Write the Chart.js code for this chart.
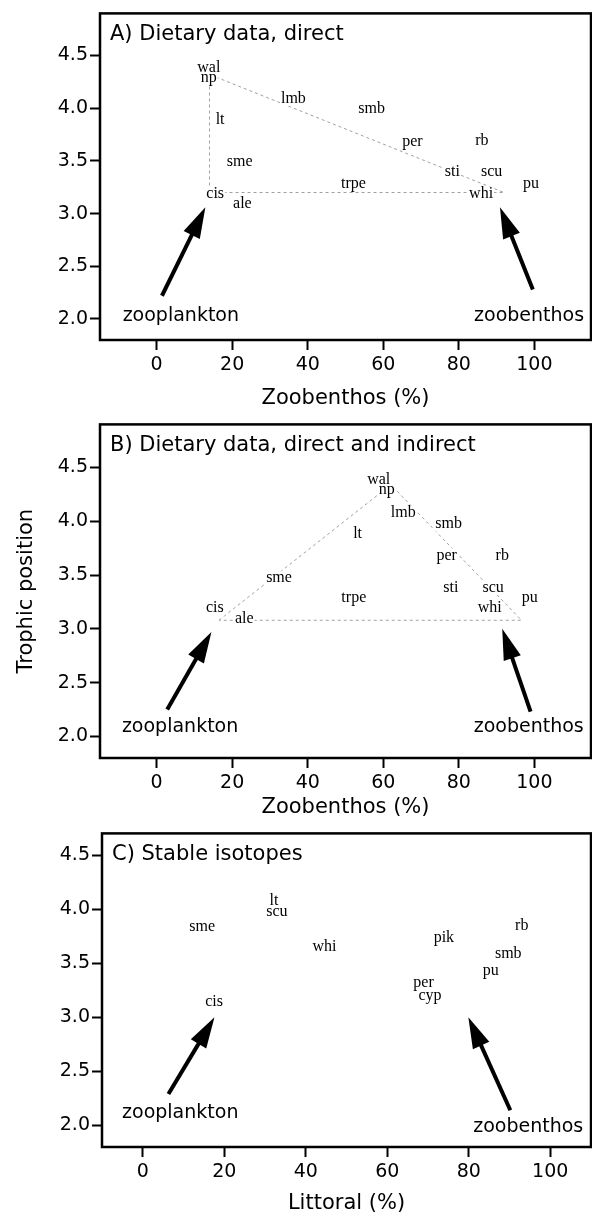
<!DOCTYPE html>
<html>
<head>
<meta charset="utf-8">
<script src="https://cdn.jsdelivr.net/npm/chart.js@4/dist/chart.umd.min.js"></script>
<style>
  html, body { margin: 0; padding: 0; background: #fff; }
  body { width: 592px; height: 1216px; position: relative; overflow: hidden; }
  canvas { position: absolute; left: 0; }
</style>
</head>
<body>
<canvas id="chartA" width="592" height="411" style="top:0px"></canvas>
<canvas id="chartB" width="592" height="409" style="top:411px"></canvas>
<canvas id="chartC" width="592" height="396" style="top:820px"></canvas>
<script>
// Panel A - dietary data, direct
const speciesA = ['wal', 'np', 'lmb', 'smb', 'lt', 'per', 'rb', 'sme', 'sti', 'scu', 'trpe', 'pu', 'cis', 'whi', 'ale'];
const zoobenthosA = [13.8, 13.8, 36.2, 56.9, 16.8, 67.7, 86.1, 22.0, 78.3, 88.7, 52.1, 99.1, 15.5, 85.9, 22.7];
const trophicA = [4.39, 4.30, 4.10, 4.00, 3.90, 3.69, 3.70, 3.50, 3.40, 3.40, 3.29, 3.29, 3.20, 3.20, 3.10];
const triangleXA = [14, 14, 92, 14];
const triangleYA = [4.32, 3.20, 3.20, 4.32];

// Panel B - dietary data, direct and indirect
const speciesB = ['wal', 'np', 'lmb', 'smb', 'lt', 'per', 'rb', 'sme', 'sti', 'scu', 'trpe', 'pu', 'whi', 'cis', 'ale'];
const zoobenthosB = [58.8, 60.9, 65.3, 77.3, 53.2, 76.8, 91.5, 32.4, 77.9, 89.1, 52.2, 98.8, 88.2, 15.4, 23.2];
const trophicB = [4.39, 4.30, 4.09, 3.98, 3.89, 3.69, 3.69, 3.48, 3.39, 3.39, 3.30, 3.30, 3.20, 3.20, 3.10];
const triangleXB = [16.5, 62, 96.6, 16.5];
const triangleYB = [3.08, 4.34, 3.08, 3.08];

// Panel C - stable isotopes
const speciesC = ['lt', 'scu', 'sme', 'whi', 'cis', 'rb', 'pik', 'smb', 'pu', 'per', 'cyp'];
const littoralC = [32.2, 32.9, 14.6, 44.6, 17.5, 93.0, 73.9, 89.7, 85.4, 68.9, 70.5];
const trophicC = [4.08, 3.98, 3.84, 3.66, 3.15, 3.85, 3.74, 3.59, 3.44, 3.33, 3.21];

// food sources: arrows (tail -> tip) and their labels, in data units
const sourceNames = ['zooplankton', 'zoobenthos'];
const arrowTailA = [[1.4, 2.22], [99.6, 2.28]];
const arrowTipA = [[12.9, 3.06], [90.9, 3.06]];
const sourcePosA = [[6.4, 1.98], [98.6, 1.98]];
const arrowTailB = [[2.8, 2.25], [99.0, 2.23]];
const arrowTipB = [[14.5, 2.97], [91.5, 3.00]];
const sourcePosB = [[6.2, 2.04], [98.5, 2.04]];
const arrowTailC = [[6.3, 2.29], [90.2, 2.14]];
const arrowTipC = [[17.6, 3.00], [79.9, 3.00]];
const sourcePosC = [[9.2, 2.07], [94.6, 1.94]];

const xTicks = [0, 20, 40, 60, 80, 100];
const yTicks = [2.0, 2.5, 3.0, 3.5, 4.0, 4.5];

const SANS = "'DejaVu Sans', sans-serif";
const SERIF = "'Liberation Serif', 'Times New Roman', serif";

function decor(p) {
  return {
    id: 'decor',
    afterDatasetsDraw(chart) {
      const ctx = chart.ctx;
      const sx = chart.scales.x, sy = chart.scales.y;
      const area = chart.chartArea;
      ctx.save();

      // species labels: white box behind, then text
      const idx = chart.data.datasets.findIndex(d => d.names);
      const meta = chart.getDatasetMeta(idx);
      const names = chart.data.datasets[idx].names;
      ctx.font = '16px ' + SERIF;
      ctx.fillStyle = '#fff';
      meta.data.forEach((pt, i) => {
        const w = ctx.measureText(names[i]).width;
        ctx.fillRect(pt.x - w / 2 - 1, pt.y + 5 - 11, w + 2, 14);
      });
      ctx.fillStyle = '#000';
      ctx.textAlign = 'center';
      ctx.textBaseline = 'alphabetic';
      meta.data.forEach((pt, i) => ctx.fillText(names[i], pt.x, pt.y + 5));

      // arrows
      ctx.strokeStyle = '#000';
      ctx.fillStyle = '#000';
      ctx.lineWidth = 4;
      p.tails.forEach((t, i) => {
        const x0 = sx.getPixelForValue(t[0]), y0 = sy.getPixelForValue(t[1]);
        const x1 = sx.getPixelForValue(p.tips[i][0]), y1 = sy.getPixelForValue(p.tips[i][1]);
        const a = Math.atan2(y1 - y0, x1 - x0);
        const hl = 31, hw = 9;
        const bx = x1 - hl * Math.cos(a), by = y1 - hl * Math.sin(a);
        ctx.beginPath();
        ctx.moveTo(x0, y0);
        ctx.lineTo(bx + 2 * Math.cos(a), by + 2 * Math.sin(a));
        ctx.stroke();
        ctx.beginPath();
        ctx.moveTo(x1, y1);
        ctx.lineTo(bx + hw * Math.sin(a), by - hw * Math.cos(a));
        ctx.lineTo(bx - hw * Math.sin(a), by + hw * Math.cos(a));
        ctx.closePath();
        ctx.fill();
      });

      // source labels
      ctx.font = '19px ' + SANS;
      p.sources.forEach((s, i) => {
        ctx.fillText(sourceNames[i], sx.getPixelForValue(s[0]), sy.getPixelForValue(s[1]));
      });

      // panel title
      ctx.textAlign = 'left';
      ctx.font = '21px ' + SANS;
      ctx.fillText(p.title, area.left + 10, area.top + 27);

      // frame
      ctx.lineWidth = 2.5;
      ctx.strokeRect(area.left, area.top, area.right - area.left, area.bottom - area.top);
      ctx.restore();
    }
  };
}

function buildPanel(id, p) {
  const datasets = [];
  if (p.triX) {
    datasets.push({
      data: p.triX.map((x, i) => ({ x: x, y: p.triY[i] })),
      showLine: true, borderColor: '#a0a0a0', borderWidth: 1, borderDash: [3, 3],
      pointRadius: 0, fill: false, tension: 0
    });
  }
  datasets.push({
    data: p.xs.map((x, i) => ({ x: x, y: p.ys[i] })),
    names: p.names, pointRadius: 0, showLine: false
  });

  new Chart(document.getElementById(id).getContext('2d'), {
    type: 'scatter',
    data: { datasets: datasets },
    options: {
      responsive: false,
      animation: false,
      events: [],
      layout: { padding: { top: p.padTop, right: 1, left: 0, bottom: 0 } },
      plugins: { legend: { display: false }, tooltip: { enabled: false } },
      scales: {
        x: {
          type: 'linear', min: p.xMin, max: p.xMax,
          afterBuildTicks: s => { s.ticks = xTicks.map(v => ({ value: v })); },
          afterFit: s => { s.height = p.xAxisHeight; },
          grid: { drawOnChartArea: false, drawTicks: true, tickLength: 10, tickColor: '#000', tickWidth: 2 },
          border: { display: false },
          ticks: { color: '#000', font: { family: SANS, size: 19 }, padding: 4, maxRotation: 0, autoSkip: false },
          title: { display: true, text: p.xTitle, color: '#000', font: { family: SANS, size: 21 }, padding: { top: 0, bottom: 0 } }
        },
        y: {
          type: 'linear', min: 1.8, max: p.yMax,
          afterBuildTicks: s => { s.ticks = yTicks.map(v => ({ value: v })); },
          afterFit: s => { s.width = p.yAxisWidth; },
          grid: { drawOnChartArea: false, drawTicks: true, tickLength: 10, tickColor: '#000', tickWidth: 2 },
          border: { display: false },
          ticks: { color: '#000', font: { family: SANS, size: 19 }, padding: 2, autoSkip: false, callback: v => v.toFixed(1) },
          title: { display: !!p.yTitle, text: p.yTitle || '', color: '#000', font: { family: SANS, size: 21 }, padding: { top: 14, bottom: 0 } }
        }
      }
    },
    plugins: [decor(p)]
  });
}

buildPanel('chartA', {
  names: speciesA, xs: zoobenthosA, ys: trophicA, triX: triangleXA, triY: triangleYA,
  tails: arrowTailA, tips: arrowTipA, sources: sourcePosA,
  title: 'A) Dietary data, direct', xTitle: 'Zoobenthos (%)',
  xMin: -15, xMax: 115, yMax: 4.9, padTop: 5, xAxisHeight: 71, yAxisWidth: 100
});
buildPanel('chartB', {
  names: speciesB, xs: zoobenthosB, ys: trophicB, triX: triangleXB, triY: triangleYB,
  tails: arrowTailB, tips: arrowTipB, sources: sourcePosB,
  title: 'B) Dietary data, direct and indirect', xTitle: 'Zoobenthos (%)', yTitle: 'Trophic position',
  xMin: -15, xMax: 115, yMax: 4.9, padTop: 8, xAxisHeight: 62, yAxisWidth: 100
});
buildPanel('chartC', {
  names: speciesC, xs: littoralC, ys: trophicC,
  tails: arrowTailC, tips: arrowTipC, sources: sourcePosC,
  title: 'C) Stable isotopes', xTitle: 'Littoral (%)',
  xMin: -10, xMax: 110, yMax: 4.7, padTop: 8, xAxisHeight: 69, yAxisWidth: 102
});
</script>
</body>
</html>
